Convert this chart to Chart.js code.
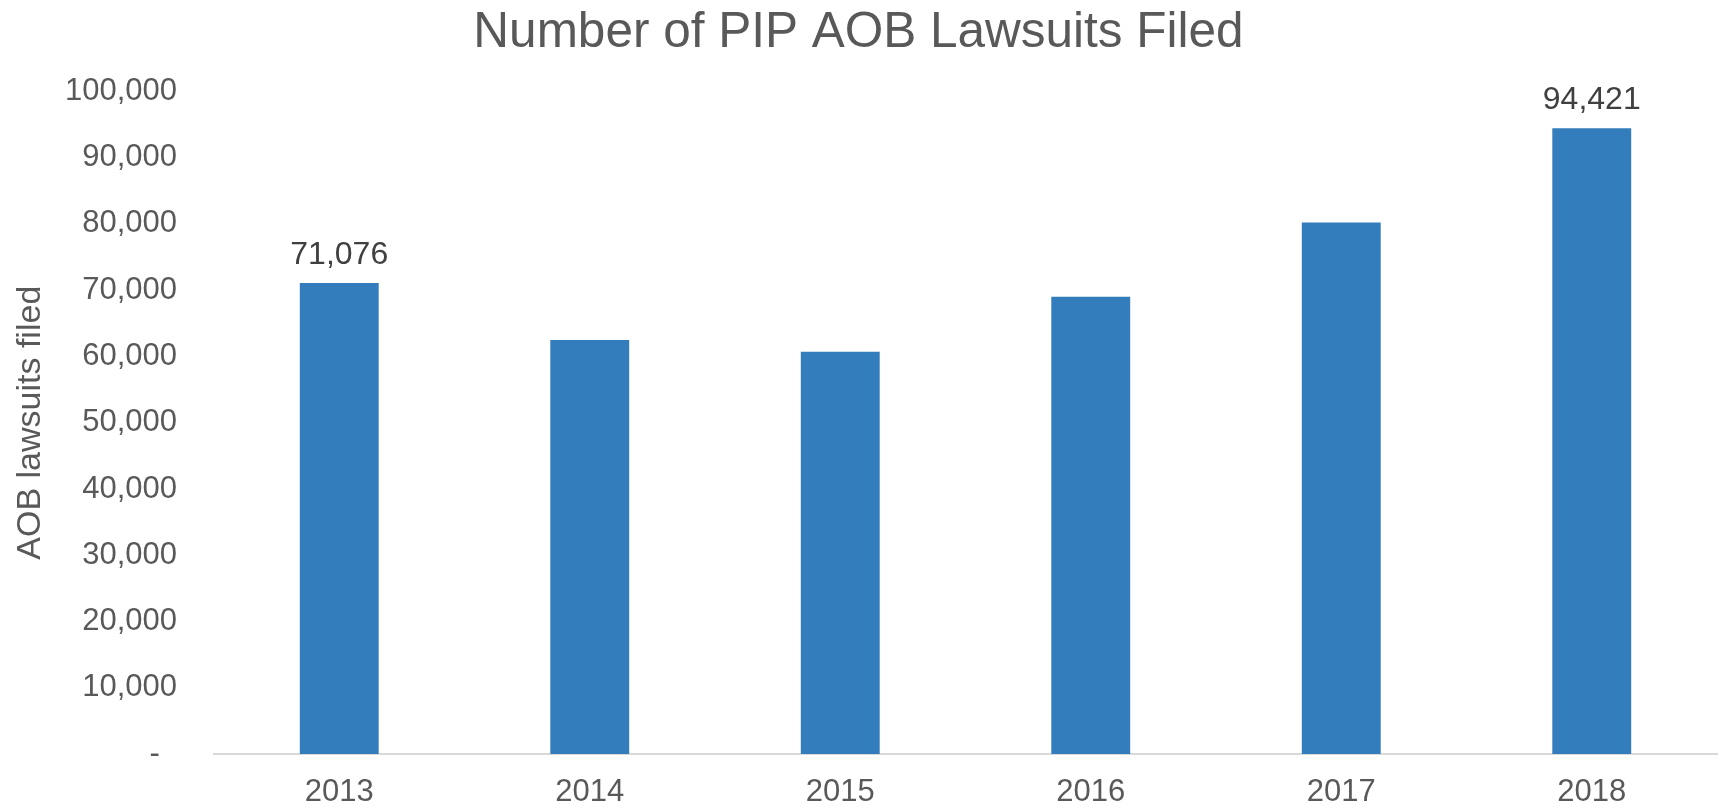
<!DOCTYPE html>
<html>
<head>
<meta charset="utf-8">
<title>Number of PIP AOB Lawsuits Filed</title>
<script src="https://cdn.jsdelivr.net/npm/chart.js@4/dist/chart.umd.min.js"></script>
<style>
  html, body { margin: 0; padding: 0; background: #fff; }
  #wrap { width: 1723px; height: 809px; }
</style>
</head>
<body>
<div id="wrap"><canvas id="aobChart"></canvas></div>
<script>
const years = ["2013", "2014", "2015", "2016", "2017", "2018"];
const lawsuits = [71076, 62500, 60700, 69000, 80200, 94421];
const labelledBars = [0, 5];
const yTicks = [0, 10000, 20000, 30000, 40000, 50000, 60000, 70000, 80000, 90000, 100000];

const fontFamily = "'Liberation Sans', Arial, sans-serif";
const gray = "#595959";

// Excel-style value labels, only on the first and last bar
const barLabels = {
  id: "barLabels",
  afterDatasetsDraw(chart) {
    const ctx = chart.ctx;
    const meta = chart.getDatasetMeta(0);
    ctx.save();
    ctx.font = "32px " + fontFamily;
    ctx.fillStyle = "#404040";
    ctx.textAlign = "center";
    ctx.textBaseline = "bottom";
    labelledBars.forEach(function (i) {
      const bar = meta.data[i];
      ctx.fillText(lawsuits[i].toLocaleString("en-US"), bar.x, bar.y - 12);
    });
    ctx.restore();
  },
};

const ctx = document.getElementById("aobChart");

new Chart(ctx, {
  type: "bar",
  data: {
    labels: years,
    datasets: [
      {
        label: "AOB lawsuits filed",
        data: lawsuits,
        backgroundColor: "#337dbd",
        borderWidth: 0,
        categoryPercentage: 1,
        barPercentage: 0.315,
      },
    ],
  },
  options: {
    responsive: true,
    maintainAspectRatio: false,
    animation: false,
    layout: { padding: { left: 0, right: 6, top: 0, bottom: 0 } },
    plugins: {
      legend: { display: false },
      tooltip: { enabled: false },
      title: {
        display: true,
        text: "Number of PIP AOB Lawsuits Filed",
        color: gray,
        font: { family: fontFamily, size: 49.5, weight: "normal" },
        padding: { top: 4, bottom: 28 },
      },
    },
    scales: {
      x: {
        grid: { display: false },
        border: { display: true, color: "#d9d9d9", width: 2 },
        ticks: {
          color: gray,
          font: { family: fontFamily, size: 31 },
          padding: 12,
        },
        afterFit: function (s) { s.height = 55; },
      },
      y: {
        min: 0,
        max: 100000,
        afterBuildTicks: function (s) {
          s.ticks = yTicks.map(function (v) { return { value: v }; });
        },
        grid: { display: false },
        border: { display: false },
        ticks: {
          color: gray,
          font: { family: fontFamily, size: 31 },
          padding: 29,
          callback: function (v) {
            return v === 0 ? "-  " : v.toLocaleString("en-US");
          },
        },
        title: {
          display: true,
          text: "AOB lawsuits filed",
          color: gray,
          font: { family: fontFamily, size: 34 },
          padding: { top: 10, bottom: 0 },
        },
        afterFit: function (s) { s.width = 214; },
      },
    },
  },
  plugins: [barLabels],
});
</script>
</body>
</html>
